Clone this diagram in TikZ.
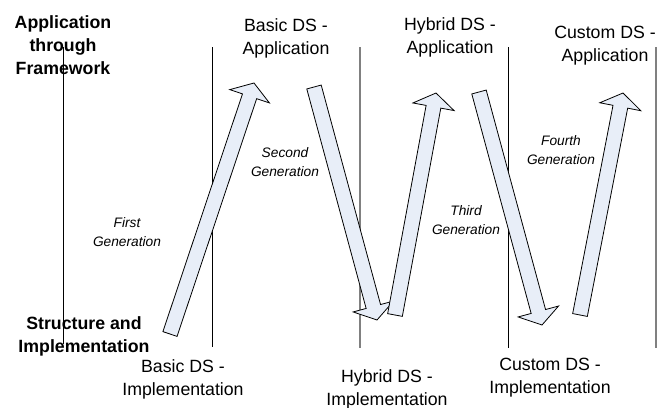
\documentclass[tikz,border=0pt]{standalone}
\usepackage{fontspec}
\setmainfont{Liberation Sans}
\usetikzlibrary{calc}
\definecolor{arrowfill}{RGB}{232,238,248}

% block arrow from tail #1 to tip #2
\newcommand{\genarrow}[2]{%
  \coordinate (j) at ($(#2)!10.5pt!(#1)$);
  \draw[garrow] ($(#1)!5.6pt!90:(#2)$) -- ($(j)!5.6pt!90:(#2)$)
    -- ($(j)!15.7pt!90:(#2)$) -- (#2) -- ($(j)!15.7pt!-90:(#2)$)
    -- ($(j)!5.6pt!-90:(#2)$) -- ($(#1)!5.6pt!-90:(#2)$) -- cycle;
}

\begin{document}
\begin{tikzpicture}[
  x=0.75pt,y=-0.75pt,
  lbl/.style={align=center,inner sep=0pt,
              font=\fontsize{13.3}{17.3}\selectfont},
  head/.style={lbl,font=\fontsize{13.3}{17.3}\selectfont\bfseries},
  gen/.style={align=center,inner sep=0pt,
              font=\fontsize{10.3}{14.6}\selectfont\itshape},
  sep/.style={black,line width=0.5pt},
  sepg/.style={gray,line width=1pt},
  garrow/.style={draw=black,fill=arrowfill,line width=0.6pt,line join=miter}
]
\useasboundingbox (0,0) rectangle (667,407);
% Separators
\draw[sep] (63,47) -- (63,344);
\draw[sep] (212,47) -- (212,347);
\draw[sepg] (360,47) -- (360,348);
\draw[sep] (508,47) -- (508,348);
\draw[sepg] (656,47) -- (656,348);
% Level labels
\node[head] (app) at (63,45) {Application\\through\\Framework};
\node[head] (struct) at (84,336) {Structure and\\Implementation};
% Application stages
\node[lbl] (basicapp) at (286,38) {Basic DS -\\Application};
\node[lbl] (hybapp) at (450,37) {Hybrid DS -\\Application};
\node[lbl] (custapp) at (605,46) {Custom DS -\\Application};
% Implementation stages
\node[lbl] (basicimp) at (183,379) {Basic DS -\\Implementation};
\node[lbl] (hybimp) at (387,389) {Hybrid DS -\\Implementation};
\node[lbl] (custimp) at (550,378) {Custom DS -\\Implementation};
% Generations
\node[gen] (gen1) at (127,232) {First\\Generation};
\node[gen] (gen2) at (285,162) {Second\\Generation};
\node[gen] (gen3) at (466,220) {Third\\Generation};
\node[gen] (gen4) at (561,150) {Fourth\\Generation};
% Arrow ends
\coordinate (t1) at (170,334); \coordinate (h1) at (254,83);
\coordinate (t2) at (314,87);  \coordinate (h2) at (377,320);
\coordinate (t3) at (395,315); \coordinate (h3) at (436,93);
\coordinate (t4) at (479,92);  \coordinate (h4) at (542,325);
\coordinate (t5) at (580,315); \coordinate (h5) at (623,93);
% Arrows
\genarrow{t1}{h1}
\genarrow{t2}{h2}
\genarrow{t3}{h3}
\genarrow{t4}{h4}
\genarrow{t5}{h5}
\end{tikzpicture}
\end{document}
